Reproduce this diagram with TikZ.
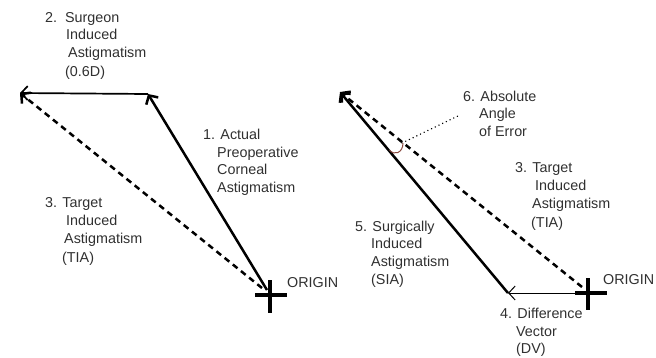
\documentclass[tikz,border=0pt]{standalone}
\usepackage{fontspec}
\setmainfont{Liberation Sans}
\usetikzlibrary{arrows.meta}
\definecolor{txt}{HTML}{303030}
\definecolor{arcc}{HTML}{8A4A40}
\tikzset{
  lbl/.style={anchor=base west, inner sep=0pt, text=txt, font=\fontsize{14.4}{17}\selectfont},
  barb/.style={-{Straight Barb[length=6.5bp,width=14bp]}},
  thickvec/.style={barb, line width=2.5bp},
  midvec/.style={barb, line width=1.7bp},
  thinvec/.style={barb, line width=1bp},
  dashvec/.style={barb, line width=2.5bp, dash pattern=on 6bp off 4.5bp},
  crossline/.style={line width=3.6bp},
  dotline/.style={line width=1.5bp, dash pattern=on 0.1bp off 4bp, line cap=round},
}
\begin{document}
\begin{tikzpicture}[x=1bp,y=-1bp]
\useasboundingbox (0,0) rectangle (656,357);
% ---------- left panel ----------
\coordinate (oL) at (270,295);
\coordinate (oLs) at (267,290);
\coordinate (oLd) at (262,288);
\coordinate (pL) at (148,94);
\coordinate (qL) at (20,93);
\draw[crossline] (255,295) -- (287,295);
\draw[crossline] (270,280) -- (270,313);
\draw[thickvec] (oLs) -- (pL);
\draw[midvec] (pL) -- (qL);
\draw[dashvec] (oLd) -- (qL);
\node[lbl] (s1) at (45,22) {2.\hspace{8bp}Surgeon};
\node[lbl] (s2) at (66,39) {Induced};
\node[lbl] (s3) at (68,57) {Astigmatism};
\node[lbl] (s4) at (65,76) {(0.6D)};
\node[lbl] (a1) at (203,139) {1. Actual};
\node[lbl] (a2) at (217,157) {Preoperative};
\node[lbl] (a3) at (217,174) {Corneal};
\node[lbl] (a4) at (217,192) {Astigmatism};
\node[lbl] (t1) at (45,207) {3. Target};
\node[lbl] (t2) at (66,225) {Induced};
\node[lbl] (t3) at (64,243) {Astigmatism};
\node[lbl] (t4) at (62,262) {(TIA)};
\node[lbl] (oLt) at (287,287) {ORIGIN};
% ---------- right panel ----------
\coordinate (oR) at (591,293);
\coordinate (oRd) at (582,287);
\coordinate (dR) at (508,293);
\coordinate (pR) at (340,92);
\draw[crossline] (575,293) -- (607,293);
\draw[crossline] (588,278) -- (588,310);
\draw[thinvec] (oR) -- (dR);
\draw[thickvec] (dR) -- (pR);
\draw[dashvec] (oRd) -- (pR);
\coordinate (e1) at (402,143);
\coordinate (e2) at (460,115);
\draw[dotline] (e1) -- (e2);
\draw[arcc, line width=1bp] (389.5,150) .. controls (394,156) and (403,153) .. (403,143);
\node[lbl] (g1) at (463,101) {6. Absolute};
\node[lbl] (g2) at (479,118) {Angle};
\node[lbl] (g3) at (479,136) {of Error};
\node[lbl] (r1) at (515,172) {3. Target};
\node[lbl] (r2) at (535,190) {Induced};
\node[lbl] (r3) at (532,208) {Astigmatism};
\node[lbl] (r4) at (531,227) {(TIA)};
\node[lbl] (u1) at (355,231) {5. Surgically};
\node[lbl] (u2) at (371,248) {Induced};
\node[lbl] (u3) at (371,266) {Astigmatism};
\node[lbl] (u4) at (371,284) {(SIA)};
\node[lbl] (oRt) at (603,284) {ORIGIN};
\node[lbl] (v1) at (500,318) {4. Difference};
\node[lbl] (v2) at (516,336) {Vector};
\node[lbl] (v3) at (516,353) {(DV)};
\end{tikzpicture}
\end{document}
